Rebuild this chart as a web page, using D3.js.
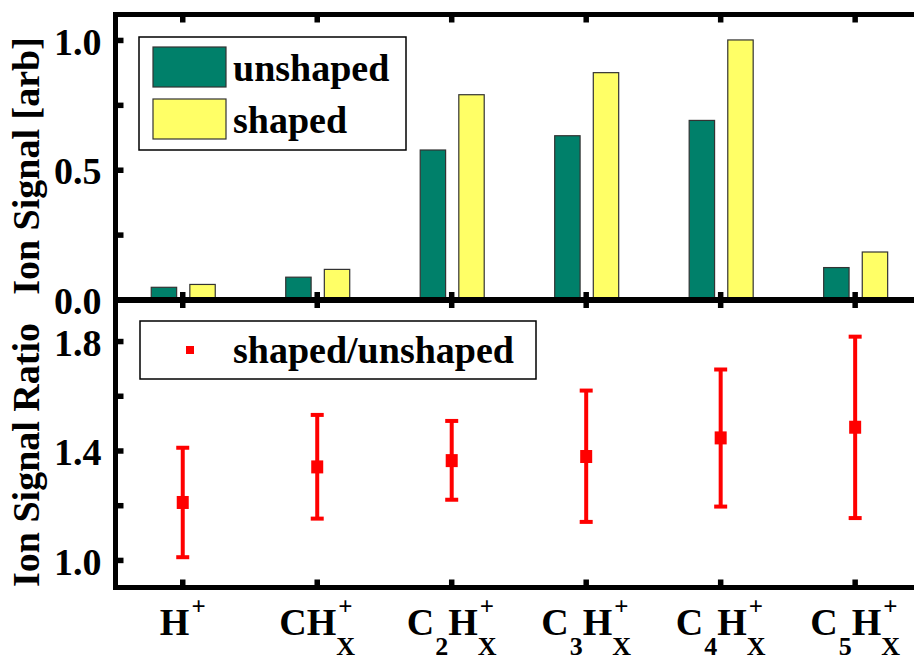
<!DOCTYPE html>
<html><head><meta charset="utf-8">
<script src="https://cdn.jsdelivr.net/npm/d3@7"></script>
<style>
body{margin:0;background:#fff}
svg{display:block}
text{font-family:"Liberation Serif","Times New Roman",serif;font-weight:bold;fill:#000}
</style>
</head><body>
<svg id="chart" width="914" height="658"></svg>
<script>
// ---- data ----
const categories = ["H^+", "CH_X^+", "C_2H_X^+", "C_3H_X^+", "C_4H_X^+", "C_5H_X^+"];
const seriesNames = ["unshaped", "shaped"];
const unshaped = [0.047, 0.086, 0.576, 0.631, 0.690, 0.123];
const shaped   = [0.058, 0.116, 0.789, 0.874, 1.000, 0.183];
const ratio     = [1.21, 1.34, 1.363, 1.378, 1.446, 1.485];
const ratioLow  = [1.01, 1.151, 1.22, 1.139, 1.195, 1.153];
const ratioHigh = [1.41, 1.53, 1.508, 1.619, 1.696, 1.816];
const topTicks = [0, 0.5, 1.0];
const topMinor = [0.25, 0.75];
const botTicks = [1.0, 1.4, 1.8];
const botMinor = [1.2, 1.6];
const topTitle = "Ion Signal [arb]";
const botTitle = "Ion Signal Ratio";
const ratioLegend = "shaped/unshaped";

// ---- styles ----
const colors = {unshaped: "#00806a", shaped: "#ffff66"};
const red = "#ff0000";

const svg = d3.select("#chart");
const L = 115.5, R = 922.4;
const x = d3.scaleBand().domain(categories).range([L, R]).padding(0);
const xs = d3.scaleBand().domain(seriesNames).range([-31.5, 32.5]).paddingInner(0.342);
const yT = d3.scaleLinear().domain([0, 1.1]).range([299.5, 14]);
const yB = d3.scaleLinear().domain([0.9, 1.95]).range([587.3, 300]);

// ---- bars ----
const barData = [];
categories.forEach((c, i) => {
  barData.push({c, s: "unshaped", v: unshaped[i]});
  barData.push({c, s: "shaped", v: shaped[i]});
});
svg.append("g").selectAll("rect").data(barData).join("rect")
  .attr("x", d => x(d.c) + x.bandwidth() / 2 + xs(d.s))
  .attr("width", xs.bandwidth())
  .attr("y", d => yT(d.v))
  .attr("height", d => yT(0) - yT(d.v))
  .attr("fill", d => colors[d.s])
  .attr("stroke", "#333")
  .attr("stroke-width", 1.2);

// ---- error bars ----
const eb = svg.append("g");
const ptData = categories.map((c, i) => ({c, v: ratio[i], lo: ratioLow[i], hi: ratioHigh[i]}));
const cx = d => x(d.c) + x.bandwidth() / 2;
eb.selectAll("line.v").data(ptData).join("line").attr("class", "v")
  .attr("x1", cx).attr("x2", cx).attr("y1", d => yB(d.lo)).attr("y2", d => yB(d.hi))
  .attr("stroke", red).attr("stroke-width", 4);
["lo", "hi"].forEach(k => {
  eb.selectAll("line.c" + k).data(ptData).join("line").attr("class", "c" + k)
    .attr("x1", d => cx(d) - 6.5).attr("x2", d => cx(d) + 6.5)
    .attr("y1", d => yB(d[k])).attr("y2", d => yB(d[k]))
    .attr("stroke", red).attr("stroke-width", 4);
});
eb.selectAll("rect").data(ptData).join("rect")
  .attr("x", d => cx(d) - 6).attr("y", d => yB(d.v) - 6.5)
  .attr("width", 12).attr("height", 13).attr("fill", red);

// ---- axes / ticks ----
function styleAxis(g) {
  g.select(".domain").remove();
  g.selectAll(".tick line").attr("stroke", "#000").attr("stroke-width", 5.5);
  g.selectAll(".tick text").attr("font-size", 38).attr("font-family", "Liberation Serif").attr("font-weight", "bold");
}
const fmt = d3.format(".1f");
svg.append("g").attr("transform", `translate(${L},0)`)
  .call(d3.axisLeft(yT).tickValues(topTicks).tickFormat(fmt).tickSizeInner(-8).tickSizeOuter(0).tickPadding(14))
  .call(styleAxis).call(g => g.selectAll(".tick text").attr("dy", "0.37em"));
svg.append("g").attr("transform", `translate(${L},0)`)
  .call(d3.axisLeft(yT).tickValues(topMinor).tickFormat("").tickSizeInner(-8).tickSizeOuter(0))
  .call(styleAxis);
svg.append("g").attr("transform", `translate(${L},0)`)
  .call(d3.axisLeft(yB).tickValues(botTicks).tickFormat(fmt).tickSizeInner(-8).tickSizeOuter(0).tickPadding(14))
  .call(styleAxis).call(g => g.selectAll(".tick text").attr("dy", "0.37em"));
svg.append("g").attr("transform", `translate(${L},0)`)
  .call(d3.axisLeft(yB).tickValues(botMinor).tickFormat("").tickSizeInner(-8).tickSizeOuter(0))
  .call(styleAxis);
// category ticks on horizontal frame lines
const catTick = (axisFn, yPos) => svg.append("g").attr("transform", `translate(0,${yPos})`)
  .call(axisFn(x).tickFormat("").tickSizeInner(-8).tickSizeOuter(0)).call(styleAxis);
catTick(d3.axisTop, 14.5);
catTick(d3.axisBottom, 300);
catTick(d3.axisTop, 300);
catTick(d3.axisBottom, 587.5);

// ---- frame ----
const fr = svg.append("g").attr("stroke", "#000");
fr.append("line").attr("x1", L).attr("x2", L).attr("y1", 12).attr("y2", 590).attr("stroke-width", 5);
fr.append("line").attr("x1", L - 2.5).attr("x2", 914).attr("y1", 14.5).attr("y2", 14.5).attr("stroke-width", 5);
fr.append("line").attr("x1", L - 2.5).attr("x2", 914).attr("y1", 300).attr("y2", 300).attr("stroke-width", 6);
fr.append("line").attr("x1", L - 2.5).attr("x2", 914).attr("y1", 587.5).attr("y2", 587.5).attr("stroke-width", 5);

// ---- x tick labels with sub/superscripts ----
function parseLabel(s) {
  const toks = [];
  let i = 0;
  while (i < s.length) {
    const ch = s[i];
    if (ch === "_" || ch === "^") {
      const kind = ch === "_" ? "sub" : "sup";
      const t = {kind, text: s[i + 1]};
      const last = toks[toks.length - 1];
      if (last && (last.kind === "sub" || last.kind === "sup") && last.kind !== kind) {
        toks[toks.length - 1] = {kind: "stack", parts: [last, t]};
      } else toks.push(t);
      i += 2;
    } else {
      const last = toks[toks.length - 1];
      if (last && last.kind === "n") last.text += ch; else toks.push({kind: "n", text: ch});
      i += 1;
    }
  }
  return toks;
}
const sizeOf = {n: 38, sub: 26, sup: 25};
const dyOf = {n: 0, sub: 20, sup: -20};
const padOf = {n: 0, sub: 1, sup: 2};
const stackPad = {sub: 0, sup: 2};
const xl = svg.append("g");
categories.forEach(c => {
  const g = xl.append("g").attr("transform", `translate(${x(c) + x.bandwidth() / 2},635)`);
  const inner = g.append("g");
  let cur = 0;
  const put = (t, at, pad) => {
    const el = inner.append("text").attr("x", at + pad).attr("y", dyOf[t.kind])
      .attr("font-size", sizeOf[t.kind]).text(t.text);
    if (t.kind === "sup") el.attr("font-weight", "normal");
    return pad + el.node().getComputedTextLength();
  };
  parseLabel(c).forEach(t => {
    if (t.kind === "stack") {
      const w = t.parts.map(p => put(p, cur, stackPad[p.kind]));
      cur += d3.max(w);
    } else cur += put(t, cur, padOf[t.kind]);
  });
  inner.attr("transform", `translate(${-cur / 2},0)`);
});

// ---- y titles ----
svg.append("text").attr("transform", "translate(39,166) rotate(-90)")
  .attr("text-anchor", "middle").attr("font-size", 38).text(topTitle);
svg.append("text").attr("transform", "translate(39,455) rotate(-90)")
  .attr("text-anchor", "middle").attr("font-size", 38).text(botTitle);

// ---- legend 1 ----
const lg = svg.append("g");
lg.append("rect").attr("x", 139).attr("y", 37).attr("width", 267).attr("height", 113)
  .attr("fill", "#fff").attr("stroke", "#000").attr("stroke-width", 1.5);
seriesNames.forEach((s, i) => {
  lg.append("rect").attr("x", 153).attr("y", 47 + i * 52).attr("width", 73).attr("height", 40)
    .attr("fill", colors[s]).attr("stroke", "#333").attr("stroke-width", 1.2);
  lg.append("text").attr("x", 233).attr("y", 81 + i * 52).attr("font-size", 38).text(s);
});
// ---- legend 2 ----
const lg2 = svg.append("g");
lg2.append("rect").attr("x", 140).attr("y", 321).attr("width", 396).attr("height", 58)
  .attr("fill", "#fff").attr("stroke", "#000").attr("stroke-width", 1.5);
lg2.append("rect").attr("x", 186).attr("y", 346).attr("width", 8).attr("height", 8).attr("fill", red);
lg2.append("text").attr("x", 233).attr("y", 363).attr("font-size", 38).text(ratioLegend);
</script>
</body></html>
